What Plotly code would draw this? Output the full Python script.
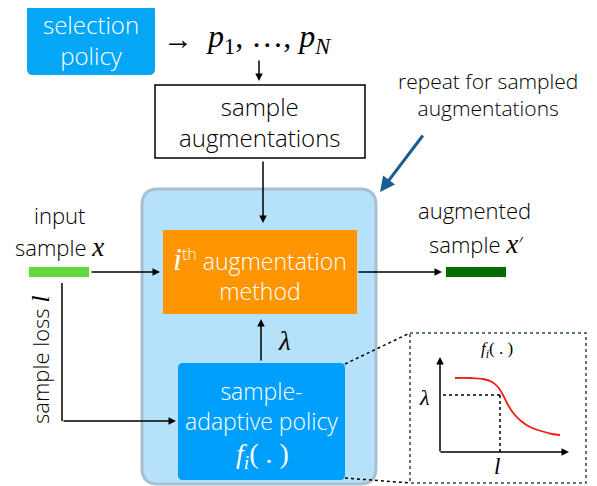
import plotly.graph_objects as go

W, H = 597, 486
OFF = 8  # browser default body margin

# ---- diagram content ----
box_labels = {
    "selection": "selection<br>policy",
    "sample_aug": "sample<br>augmentations",
    "method": "<i style='font-family:Liberation Serif;font-size:32px'>i</i><sup style='font-size:18px'>th</sup> augmentation<br>method",
    "adaptive": "sample-<br>adaptive policy",
}
box_x0 = {"selection": 27, "sample_aug": 155, "method": 163, "adaptive": 178}
box_x1 = {"selection": 155, "sample_aug": 365, "method": 357, "adaptive": 345}
box_y0 = {"selection": 4, "sample_aug": 85, "method": 230, "adaptive": 363}
box_y1 = {"selection": 75, "sample_aug": 158, "method": 314, "adaptive": 480}

# f_i(.) curve points (loss l -> lambda)
curve_x = [455, 470, 483, 492, 498, 503, 508, 514, 521, 530, 541, 552, 560]
curve_y = [378, 378, 379, 382, 387, 395, 405, 414, 421, 427, 431, 434, 435]

SANS = "Open Sans"
SERIF = "Liberation Serif"

fig = go.Figure()


def rrect(x0, y0, x1, y1, r):
    return (f"M {x0+r},{y0} L {x1-r},{y0} Q {x1},{y0} {x1},{y0+r} "
            f"L {x1},{y1-r} Q {x1},{y1} {x1-r},{y1} L {x0+r},{y1} "
            f"Q {x0},{y1} {x0},{y1-r} L {x0},{y0+r} Q {x0},{y0} {x0+r},{y0} Z")


shapes = []
shapes.append(dict(type="path", path=rrect(142, 189, 376, 484, 16),
                   fillcolor="#B5E1FB", line=dict(color="#A9BFD0", width=3), layer="below"))
shapes.append(dict(type="path", path=rrect(box_x0["selection"], box_y0["selection"],
                                           box_x1["selection"], box_y1["selection"], 6),
                   fillcolor="#05A6F6", line=dict(width=0)))
shapes.append(dict(type="rect", x0=box_x0["sample_aug"], y0=box_y0["sample_aug"],
                   x1=box_x1["sample_aug"], y1=box_y1["sample_aug"],
                   fillcolor="white", line=dict(color="black", width=1.5)))
shapes.append(dict(type="rect", x0=box_x0["method"], y0=box_y0["method"],
                   x1=box_x1["method"], y1=box_y1["method"],
                   fillcolor="#FF9500", line=dict(width=0)))
shapes.append(dict(type="path", path=rrect(box_x0["adaptive"], box_y0["adaptive"],
                                           box_x1["adaptive"], box_y1["adaptive"], 5),
                   fillcolor="#009FFC", line=dict(width=0)))
shapes.append(dict(type="rect", x0=29, y0=267, x1=89, y1=277, fillcolor="#62DA3B", line=dict(width=0)))
shapes.append(dict(type="rect", x0=446, y0=267, x1=506, y1=277, fillcolor="#026B00", line=dict(width=0)))
shapes.append(dict(type="line", x0=62, y0=283, x1=62, y1=421, line=dict(color="black", width=1.5)))
shapes.append(dict(type="rect", x0=410, y0=333, x1=586, y1=483,
                   line=dict(color="#2B4A66", width=1.5, dash="dot")))
shapes.append(dict(type="line", x0=345, y0=364, x1=410, y1=333,
                   line=dict(color="black", width=1.5, dash="dot")))
shapes.append(dict(type="line", x0=345, y0=478, x1=410, y1=483,
                   line=dict(color="black", width=1.5, dash="dot")))
shapes.append(dict(type="line", x0=443, y0=395, x1=500, y1=395,
                   line=dict(color="black", width=1.5, dash="dot")))
shapes.append(dict(type="line", x0=500, y0=395, x1=500, y1=452,
                   line=dict(color="black", width=1.5, dash="dot")))

fig.update_layout(shapes=shapes)

fig.add_trace(go.Scatter(x=curve_x, y=curve_y, mode="lines",
                         line=dict(color="#F21C0C", width=1.8, shape="spline"),
                         hoverinfo="skip", showlegend=False))

ann = []


def arrow(x0, y0, x1, y1, color="black", width=1.5, size=1.0, head=2):
    ann.append(dict(x=x1, y=y1, ax=x0, ay=y0, xref="x", yref="y", axref="x", ayref="y",
                    text="", showarrow=True, arrowhead=head, arrowsize=size,
                    arrowwidth=width, arrowcolor=color, standoff=0, startstandoff=0))


def text(x, y, t, size=20, color="black", family=SANS, xanchor="center", yanchor="middle",
         textangle=0, weight=300):
    f = dict(size=size, color=color, family=family, weight=weight)
    ann.append(dict(x=x, y=y, xref="x", yref="y", text=t, showarrow=False, font=f,
                    xanchor=xanchor, yanchor=yanchor, textangle=textangle))


XI = "<i style='font-family:Liberation Serif;font-size:27px'>x</i>"
text(91, 40, box_labels["selection"], size=24, color="white")
text(260, 122, box_labels["sample_aug"], size=24, color="black")
text(260, 274, box_labels["method"], size=23, color="white")
text(261, 406, box_labels["adaptive"], size=23, color="white")
text(262, 455, "<i>f<sub>i</sub></i>( . )", size=28, color="white", family=SERIF, weight=400)

text(178, 38, "→", size=30, family=SERIF, weight=400)
text(204, 38, "<i>p</i><sub>1</sub>, …, <i>p<sub>N</sub></i>", size=32, family=SERIF,
     xanchor="left", weight=400)
arrow(259, 59, 259, 81)

arrow(263, 160, 263, 223)
arrow(90, 272, 160, 272)
arrow(62, 421, 176, 421)
arrow(261, 362, 261, 319)
arrow(357, 272, 442, 272)

text(59, 215, "input", size=22)
text(59, 247, "sample " + XI, size=22)
text(474, 210, "augmented", size=22)
text(476, 244, "sample " + XI + "′", size=22)
text(40, 360, "sample loss <i style='font-family:Liberation Serif;font-size:26px'>l</i>",
     size=22, textangle=-90)
text(284, 341, "<i>λ</i>", size=27, family=SERIF, weight=400)
text(396, 94, "repeat for sampled<br>augmentations", size=21, xanchor="left")

arrow(424, 134, 380, 192, color="#1C5D90", width=3, size=1.0, head=2)

arrow(440, 453, 440, 357)
arrow(439, 452, 569, 452)
text(497, 350, "<i>f<sub>i</sub></i>( . )", size=17, family=SERIF, weight=400)
text(424, 397, "<i>λ</i>", size=22, family=SERIF, weight=400)
text(497, 466, "<i>l</i>", size=23, family=SERIF, weight=400)

fig.update_layout(annotations=ann)

fig.update_layout(
    width=W - OFF, height=H - OFF, margin=dict(l=0, r=0, t=0, b=0),
    paper_bgcolor="white", plot_bgcolor="white",
    xaxis=dict(range=[OFF, W], visible=False, fixedrange=True),
    yaxis=dict(range=[H, OFF], visible=False, fixedrange=True),
)

fig.write_html("out.html")
